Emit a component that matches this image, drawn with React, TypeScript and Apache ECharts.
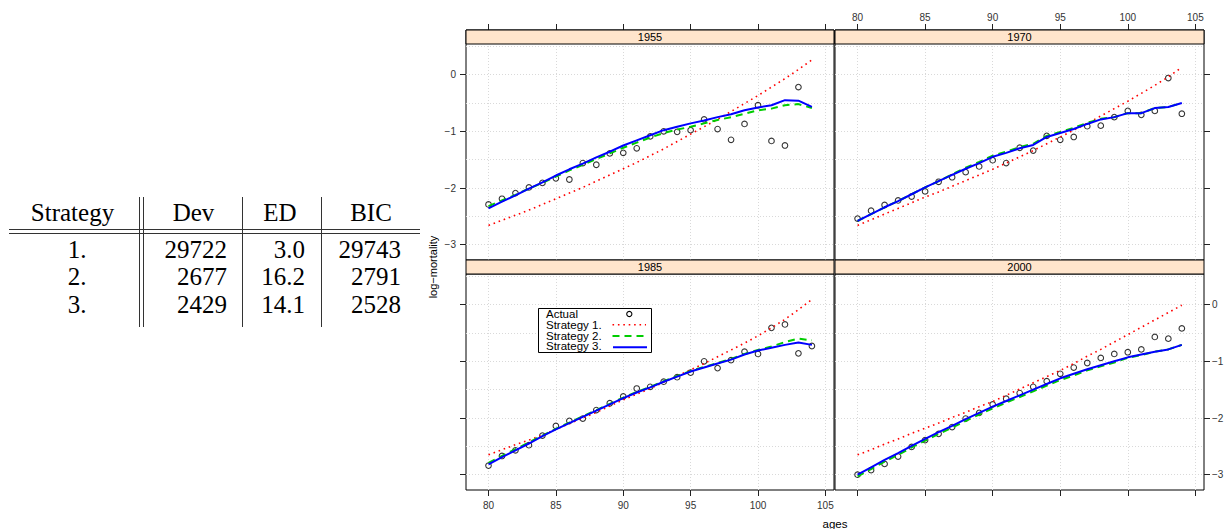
import React, { useEffect, useRef } from "react";
import * as echarts from "echarts";

// ---------------- data ----------------
const AGES = [80, 81, 82, 83, 84, 85, 86, 87, 88, 89, 90, 91, 92, 93, 94, 95, 96, 97, 98, 99, 100, 101, 102, 103, 104];
const YEARS = ["1955", "1970", "1985", "2000"];
const X_TICKS = [80, 85, 90, 95, 100, 105];
const Y_TICKS = [-3, -2, -1, 0];
const X_GRID = [80, 85, 90, 95, 100, 105];
const Y_GRID = [-3, -2.5, -2, -1.5, -1, -0.5, 0, 0.5];

const ACTUAL_1955 = [-2.29, -2.19, -2.09, -1.99, -1.91, -1.83, -1.85, -1.56, -1.59, -1.39, -1.38, -1.3, -1.09, -1.0, -1.01, -0.98, -0.79, -0.96, -1.15, -0.87, -0.54, -1.17, -1.25, -0.22, null];
const S1_1955 = [-2.66, -2.57, -2.48, -2.39, -2.29, -2.19, -2.09, -1.99, -1.88, -1.77, -1.66, -1.55, -1.43, -1.31, -1.18, -1.05, -0.92, -0.79, -0.65, -0.51, -0.37, -0.22, -0.07, 0.09, 0.26];
const S2_1955 = [-2.32, -2.22, -2.12, -2.01, -1.91, -1.8, -1.69, -1.59, -1.49, -1.39, -1.29, -1.2, -1.11, -1.03, -0.97, -0.92, -0.86, -0.8, -0.75, -0.69, -0.63, -0.6, -0.54, -0.52, -0.59];
const S3_1955 = [-2.36, -2.24, -2.13, -2.01, -1.9, -1.78, -1.67, -1.57, -1.46, -1.36, -1.25, -1.16, -1.07, -0.98, -0.92, -0.86, -0.81, -0.75, -0.7, -0.63, -0.58, -0.54, -0.45, -0.46, -0.57];

const ACTUAL_1970 = [-2.54, -2.4, -2.3, -2.22, -2.15, -2.06, -1.89, -1.81, -1.72, -1.62, -1.51, -1.56, -1.29, -1.34, -1.08, -1.15, -1.1, -0.91, -0.9, -0.75, -0.64, -0.71, -0.64, -0.06, -0.69];
const S1_1970 = [-2.66, -2.56, -2.46, -2.36, -2.26, -2.16, -2.07, -1.97, -1.87, -1.77, -1.67, -1.56, -1.45, -1.34, -1.22, -1.1, -0.98, -0.86, -0.73, -0.6, -0.47, -0.33, -0.19, -0.04, 0.13];
const S2_1970 = [-2.58, -2.46, -2.34, -2.23, -2.11, -1.99, -1.88, -1.76, -1.64, -1.54, -1.43, -1.36, -1.28, -1.22, -1.08, -1.01, -0.94, -0.85, -0.78, -0.75, -0.68, -0.68, -0.59, -0.57, -0.5];
const S3_1970 = [-2.58, -2.46, -2.34, -2.23, -2.11, -1.99, -1.88, -1.77, -1.66, -1.56, -1.45, -1.38, -1.3, -1.24, -1.1, -1.03, -0.96, -0.87, -0.79, -0.75, -0.68, -0.68, -0.59, -0.57, -0.5];

const ACTUAL_1985 = [-2.84, -2.67, -2.57, -2.48, -2.31, -2.14, -2.05, -2.01, -1.86, -1.74, -1.62, -1.48, -1.45, -1.36, -1.28, -1.2, -1.0, -1.12, -0.98, -0.83, -0.87, -0.41, -0.35, -0.86, -0.73];
const S1_1985 = [-2.65, -2.56, -2.47, -2.39, -2.3, -2.2, -2.1, -2.0, -1.9, -1.79, -1.68, -1.58, -1.48, -1.37, -1.26, -1.15, -1.04, -0.92, -0.8, -0.68, -0.55, -0.41, -0.26, -0.09, 0.09];
const S2_1985 = [-2.79, -2.67, -2.55, -2.43, -2.31, -2.19, -2.08, -1.97, -1.86, -1.75, -1.64, -1.54, -1.45, -1.35, -1.26, -1.17, -1.1, -1.03, -0.96, -0.87, -0.8, -0.74, -0.66, -0.6, -0.63];
const S3_1985 = [-2.82, -2.69, -2.57, -2.45, -2.32, -2.2, -2.09, -1.98, -1.87, -1.76, -1.65, -1.55, -1.46, -1.36, -1.27, -1.18, -1.11, -1.04, -0.97, -0.88, -0.81, -0.76, -0.71, -0.67, -0.71];

const ACTUAL_2000 = [-3.0, -2.92, -2.81, -2.68, -2.51, -2.39, -2.28, -2.16, -2.01, -1.91, -1.76, -1.66, -1.56, -1.45, -1.35, -1.22, -1.11, -1.03, -0.94, -0.87, -0.84, -0.79, -0.57, -0.6, -0.42];
const S1_2000 = [-2.65, -2.56, -2.46, -2.37, -2.27, -2.18, -2.09, -1.99, -1.9, -1.8, -1.71, -1.6, -1.49, -1.38, -1.27, -1.16, -1.04, -0.91, -0.79, -0.66, -0.53, -0.4, -0.27, -0.14, -0.01];
const S2_2000 = [-3.03, -2.9, -2.77, -2.65, -2.52, -2.4, -2.28, -2.17, -2.05, -1.94, -1.83, -1.73, -1.63, -1.53, -1.43, -1.33, -1.25, -1.16, -1.09, -1.02, -0.94, -0.89, -0.83, -0.79, -0.71];
const S3_2000 = [-3.0, -2.87, -2.74, -2.62, -2.49, -2.37, -2.25, -2.14, -2.02, -1.91, -1.8, -1.7, -1.6, -1.5, -1.4, -1.3, -1.22, -1.14, -1.07, -1.0, -0.93, -0.88, -0.83, -0.79, -0.71];

const ACTUAL = [ACTUAL_1955, ACTUAL_1970, ACTUAL_1985, ACTUAL_2000];
const S1 = [S1_1955, S1_1970, S1_1985, S1_2000];
const S2 = [S2_1955, S2_1970, S2_1985, S2_2000];
const S3 = [S3_1955, S3_1970, S3_1985, S3_2000];

const LEGEND_LABELS = ["Actual", "Strategy 1.", "Strategy 2.", "Strategy 3."];

const TABLE_HEADER = ["Strategy", "Dev", "ED", "BIC"];
const TABLE_STRATEGY = ["1.", "2.", "3."];
const TABLE_DEV = ["29722", "2677", "2429"];
const TABLE_ED = ["3.0", "16.2", "14.1"];
const TABLE_BIC = ["29743", "2791", "2528"];

// ---------------- layout ----------------
const X_MIN = 78.33;
const X_MAX = 105.64;
const Y_MIN = -3.27;
const Y_MAX = 0.54;
const STRIP_H = 14;
// top-row grids also cover their strip (so the top axis sits on the strip's top edge)
const Y_MAX_TOP = Y_MAX + (STRIP_H * (Y_MAX - Y_MIN)) / 216;
const PANELS = [
  { left: 466, top: 30, width: 368, height: 230, yMax: Y_MAX_TOP, stripY: 30, xPos: "top", xLabels: false, yPos: "left", yLabels: true },
  { left: 835, top: 30, width: 369, height: 230, yMax: Y_MAX_TOP, stripY: 30, xPos: "top", xLabels: true, yPos: "right", yLabels: false },
  { left: 466, top: 274, width: 368, height: 216, yMax: Y_MAX, stripY: 260, xPos: "bottom", xLabels: true, yPos: "left", yLabels: false },
  { left: 835, top: 274, width: 369, height: 216, yMax: Y_MAX, stripY: 260, xPos: "bottom", xLabels: false, yPos: "right", yLabels: true },
];

const SANS = "Liberation Sans, Arial, Helvetica, sans-serif";
const SERIF = "Liberation Serif, Times New Roman, serif";
const minus = (v: number) => String(v).replace("-", "\u2212");
const RED_DASH = [1.6, 3.8];
const GREEN_DASH = [7, 5];

function pairs(vals: (number | null)[]) {
  return AGES.map((a, i) => [a, vals[i]]);
}

function buildOption() {
  const grid = PANELS.map((p) => ({
    left: p.left,
    top: p.top,
    width: p.width,
    height: p.height,
    show: true,
    borderColor: "#000",
    borderWidth: 1,
    backgroundColor: "transparent",
    outerBoundsMode: "none",
    containLabel: false,
  }));

  const xAxis = PANELS.map((p, i) => ({
    type: "value",
    gridIndex: i,
    position: p.xPos,
    min: X_MIN,
    max: X_MAX,
    axisLine: { show: false, onZero: false },
    axisTick: { show: true, inside: false, length: 6, customValues: X_TICKS, lineStyle: { color: "#222", width: 1 } },
    axisLabel: {
      show: p.xLabels,
      customValues: X_TICKS,
      margin: p.xPos === "top" ? 8 : 10,
      fontSize: 10,
      fontFamily: SANS,
      color: "#333",
    },
    splitLine: { show: false },
  }));

  const yAxis = PANELS.map((p, i) => ({
    type: "value",
    gridIndex: i,
    position: p.yPos,
    min: Y_MIN,
    max: p.yMax,
    axisLine: { show: false, onZero: false },
    axisTick: { show: true, inside: false, length: 6, customValues: Y_TICKS, lineStyle: { color: "#222", width: 1 } },
    axisLabel: {
      show: p.yLabels,
      customValues: Y_TICKS,
      margin: p.yPos === "left" ? 10 : 8,
      fontSize: 10,
      fontFamily: SANS,
      color: "#333",
      formatter: (v: number) => minus(v),
    },
    splitLine: { show: false },
  }));

  const series: any[] = [];
  PANELS.forEach((_p, i) => {
    series.push({
      type: "scatter",
      name: "Actual",
      xAxisIndex: i,
      yAxisIndex: i,
      data: pairs(ACTUAL[i]).filter((d) => d[1] !== null),
      symbol: "circle",
      symbolSize: 5.6,
      itemStyle: { color: "rgba(0,0,0,0)", borderColor: "#000", borderWidth: 1.1 },
      z: 3,
      silent: true,
      markLine: {
        silent: true,
        symbol: "none",
        z: 1,
        label: { show: false },
        lineStyle: { color: "#d9d9d9", type: [1, 2], width: 1 },
        data: [...X_GRID.map((x) => ({ xAxis: x })), ...Y_GRID.map((y) => ({ yAxis: y }))],
      },
    });
    series.push({
      type: "line",
      name: "Strategy 1.",
      xAxisIndex: i,
      yAxisIndex: i,
      data: pairs(S1[i]),
      showSymbol: false,
      symbol: "none",
      lineStyle: { color: "#ff0000", width: 1.6, type: RED_DASH, cap: "butt" },
      z: 4,
      silent: true,
    });
    series.push({
      type: "line",
      name: "Strategy 2.",
      xAxisIndex: i,
      yAxisIndex: i,
      data: pairs(S2[i]),
      showSymbol: false,
      symbol: "none",
      lineStyle: { color: "#00cd00", width: 2, type: GREEN_DASH },
      z: 5,
      silent: true,
    });
    series.push({
      type: "line",
      name: "Strategy 3.",
      xAxisIndex: i,
      yAxisIndex: i,
      data: pairs(S3[i]),
      showSymbol: false,
      symbol: "none",
      lineStyle: { color: "#0000ff", width: 2 },
      z: 6,
      silent: true,
    });
  });

  const txt = (text: string, x: number, y: number, size: number, family: string, align = "center", extra: any = {}) => ({
    type: "text",
    x,
    y,
    silent: true,
    ...extra,
    style: {
      text,
      fontSize: size,
      fontFamily: family,
      fill: "#000",
      align,
      verticalAlign: "middle",
      textAlign: align,
      textVerticalAlign: "middle",
    },
  });
  const ln = (x1: number, y1: number, x2: number, y2: number, stroke: string, lineWidth: number, lineDash?: number[]) => ({
    type: "line",
    silent: true,
    shape: { x1, y1, x2, y2 },
    style: { stroke, lineWidth, lineDash },
  });

  const graphics: any[] = [];

  // strips
  PANELS.forEach((p, i) => {
    graphics.push({
      type: "rect",
      silent: true,
      shape: { x: p.left, y: p.stripY, width: p.width, height: STRIP_H },
      style: { fill: "#ffe5cc", stroke: "#000", lineWidth: 1 },
      z: 10,
    });
    graphics.push({ ...txt(YEARS[i], p.left + p.width / 2, p.stripY + STRIP_H / 2, 11, SANS), z: 11 });
  });

  // axis titles
  graphics.push(txt("ages", 835, 524, 11.5, SANS));
  graphics.push(txt("log\u2212mortality", 433, 267, 11, SANS, "center", { rotation: Math.PI / 2 }));

  // legend (inside 1985 panel)
  graphics.push({
    type: "rect",
    silent: true,
    z: 20,
    shape: { x: 538.5, y: 308.5, width: 113, height: 44 },
    style: { fill: "#fff", stroke: "#000", lineWidth: 1 },
  });
  const legY = [314, 324.8, 335.6, 346.4];
  LEGEND_LABELS.forEach((l, k) => {
    graphics.push({ ...txt(l, 546, legY[k], 11.5, SANS, "left"), z: 21 });
  });
  graphics.push({
    type: "circle",
    silent: true,
    z: 21,
    shape: { cx: 629.3, cy: legY[0], r: 2.6 },
    style: { fill: "none", stroke: "#000", lineWidth: 1.1 },
  });
  graphics.push({ ...ln(612.5, legY[1], 646, legY[1], "#ff0000", 1.6, RED_DASH), z: 21 });
  graphics.push({ ...ln(612.5, legY[2] + 0.4, 646, legY[2] + 0.4, "#00cd00", 2, GREEN_DASH), z: 21 });
  graphics.push({ ...ln(613, legY[3] + 0.8, 647, legY[3] + 0.8, "#0000ff", 2), z: 21 });

  // table
  const hdrY = 212;
  const rowY = [249.5, 276.5, 304];
  graphics.push(txt(TABLE_HEADER[0], 72.5, hdrY, 25, SERIF));
  graphics.push(txt(TABLE_HEADER[1], 193.5, hdrY, 25, SERIF));
  graphics.push(txt(TABLE_HEADER[2], 280, hdrY, 25, SERIF));
  graphics.push(txt(TABLE_HEADER[3], 371, hdrY, 25, SERIF));
  rowY.forEach((y, r) => {
    graphics.push(txt(TABLE_STRATEGY[r], 77, y, 25, SERIF));
    graphics.push(txt(TABLE_DEV[r], 227, y, 25, SERIF, "right"));
    graphics.push(txt(TABLE_ED[r], 305, y, 25, SERIF, "right"));
    graphics.push(txt(TABLE_BIC[r], 401, y, 25, SERIF, "right"));
  });
  graphics.push(ln(9, 229.5, 420, 229.5, "#333", 1));
  graphics.push(ln(9, 233.5, 420, 233.5, "#333", 1));
  [139.5, 143.5, 242.5, 321.5].forEach((x) => graphics.push(ln(x, 197, x, 327, "#333", 1)));

  return {
    animation: false,
    backgroundColor: "#fff",
    grid,
    xAxis,
    yAxis,
    series,
    graphic: { elements: graphics },
  };
}

export default function App() {
  const ref = useRef<HTMLDivElement>(null);
  useEffect(() => {
    if (!ref.current) return;
    const chart = echarts.init(ref.current, undefined, { renderer: "svg" });
    chart.setOption(buildOption() as any);
    return () => chart.dispose();
  }, []);
  return <div ref={ref} style={{ position: "fixed", left: 0, top: 0, width: 1228, height: 529 }} />;
}
